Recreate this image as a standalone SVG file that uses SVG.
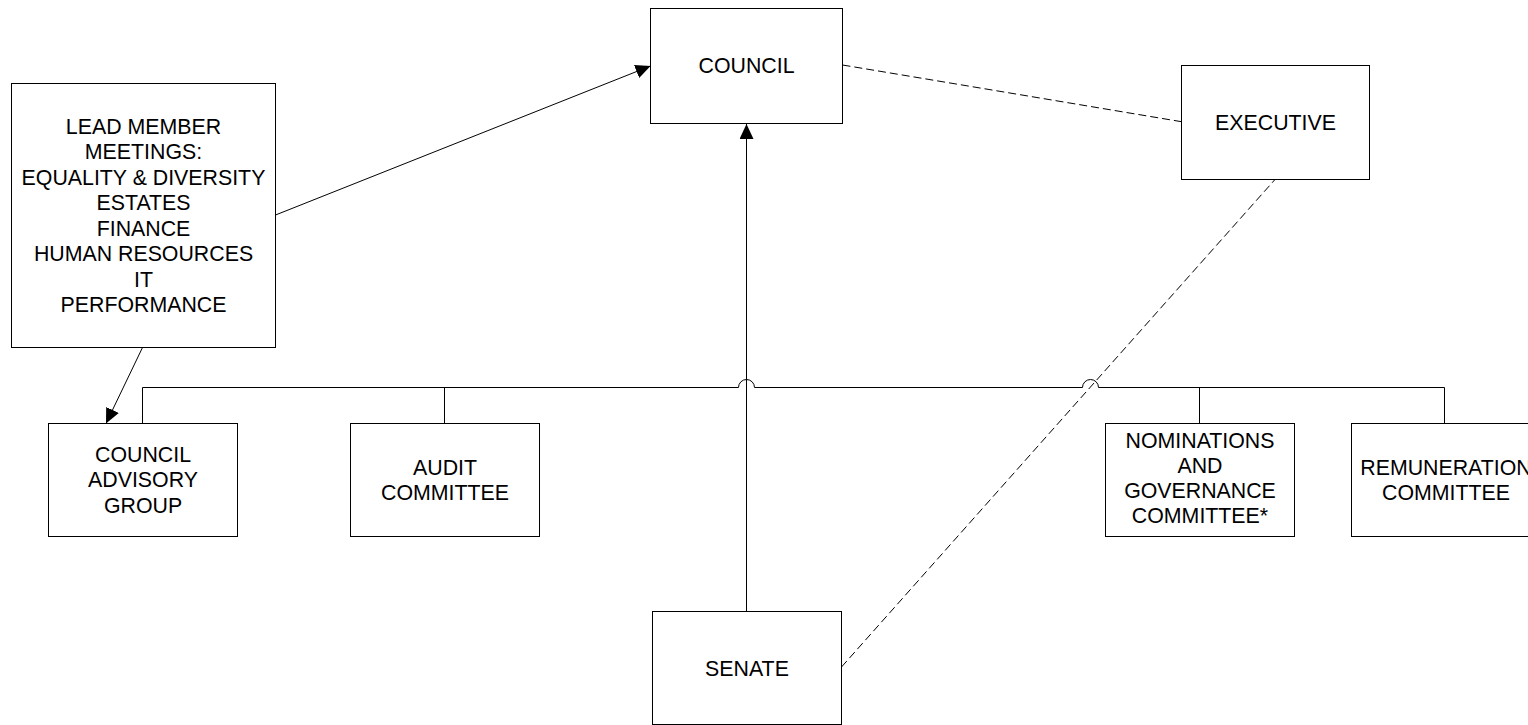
<svg xmlns="http://www.w3.org/2000/svg" width="1528" height="725" viewBox="0 0 1528 725">
<style>
.box{fill:#fff;stroke:#000;stroke-width:1}
.lbl{font-family:"Liberation Sans",Arial,sans-serif;font-size:21.33px;fill:#000;text-anchor:middle}
.ln{fill:none;stroke:#000;stroke-width:1}
.dash{fill:none;stroke:#000;stroke-width:1;stroke-dasharray:8 4}
</style>
<defs>
<marker id="arr" markerUnits="userSpaceOnUse" markerWidth="16" markerHeight="15" refX="15" refY="7" orient="auto">
<path d="M0,0 L15,7 L0,14 z" fill="#000"/>
</marker>
</defs>
<rect width="1528" height="725" fill="#fff"/>
<g id="connectors">
<path class="ln" d="M142.5 423 V387.5 H738.5 A8 8 0 0 1 754.5 387.5 H1082.5 A8 8 0 0 1 1098.5 387.5 H1444.5 V423"/>
<path class="ln" d="M444.5 387.5 V423"/>
<path class="ln" d="M1199.5 387.5 V423"/>
<path class="ln" d="M746.5 611.5 V124" marker-end="url(#arr)"/>
<path class="ln" d="M275.5 215 L650.5 66" marker-end="url(#arr)"/>
<path class="ln" d="M142.5 347.5 L106 423.5" marker-end="url(#arr)"/>
<path class="dash" d="M842.5 65 L1181.5 121.7"/>
<path class="dash" d="M841.5 667 L1275 179.5"/>
</g>
<g id="council">
<rect class="box" x="650.5" y="8.5" width="192" height="115"/>
<text class="lbl" x="746.5" y="72.5">COUNCIL</text>
</g>
<g id="executive">
<rect class="box" x="1181.5" y="65.5" width="188" height="114"/>
<text class="lbl" x="1275.5" y="129.5">EXECUTIVE</text>
</g>
<g id="lead">
<rect class="box" x="11.5" y="83.5" width="264" height="264"/>
<text class="lbl" y="133.5"><tspan x="143.5">LEAD MEMBER</tspan><tspan x="143.5" dy="25.5">MEETINGS:</tspan><tspan x="143.5" dy="25.5">EQUALITY &amp; DIVERSITY</tspan><tspan x="143.5" dy="25.5">ESTATES</tspan><tspan x="143.5" dy="25.5">FINANCE</tspan><tspan x="143.5" dy="25.5">HUMAN RESOURCES</tspan><tspan x="143.5" dy="25.5">IT</tspan><tspan x="143.5" dy="25.5">PERFORMANCE</tspan></text>
</g>
<g id="advisory">
<rect class="box" x="48.5" y="423.5" width="189" height="113"/>
<text class="lbl" y="462"><tspan x="143">COUNCIL</tspan><tspan x="143" dy="25.3">ADVISORY</tspan><tspan x="143" dy="25.3">GROUP</tspan></text>
</g>
<g id="audit">
<rect class="box" x="350.5" y="423.5" width="189" height="113"/>
<text class="lbl" y="474.5"><tspan x="445">AUDIT</tspan><tspan x="445" dy="25.3">COMMITTEE</tspan></text>
</g>
<g id="nominations">
<rect class="box" x="1105.5" y="423.5" width="189" height="113"/>
<text class="lbl" y="447.5"><tspan x="1200">NOMINATIONS</tspan><tspan x="1200" dy="25.2">AND</tspan><tspan x="1200" dy="25.2">GOVERNANCE</tspan><tspan x="1200" dy="25.2">COMMITTEE*</tspan></text>
</g>
<g id="remuneration">
<rect class="box" x="1351.5" y="423.5" width="189" height="113"/>
<text class="lbl" y="474.5"><tspan x="1446">REMUNERATION</tspan><tspan x="1446" dy="25.3">COMMITTEE</tspan></text>
</g>
<g id="senate">
<rect class="box" x="652.5" y="611.5" width="189" height="113"/>
<text class="lbl" x="747" y="675.5">SENATE</text>
</g>
</svg>
